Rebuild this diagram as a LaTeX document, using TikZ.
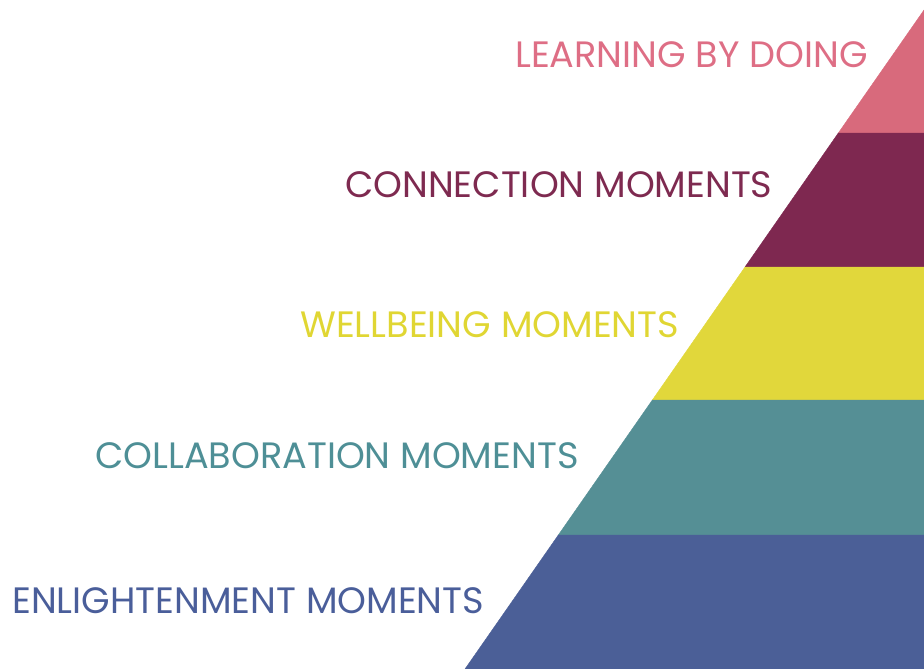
\documentclass[tikz,border=0pt]{standalone}
\usepackage{fontspec}
\setmainfont{Poppins}
\usetikzlibrary{calc}
\definecolor{cpink}{HTML}{D86A7C}
\definecolor{cmaroon}{HTML}{7E2850}
\definecolor{cyellow}{HTML}{E1D73B}
\definecolor{cteal}{HTML}{558F95}
\definecolor{cblue}{HTML}{4B5F97}
\definecolor{tpink}{HTML}{DE6E85}
\definecolor{tmaroon}{HTML}{7E2A50}
\definecolor{tyellow}{HTML}{E0D633}
\definecolor{tteal}{HTML}{4E8F96}
\definecolor{tblue}{HTML}{4A5E9A}
\tikzset{
  lbl/.style={anchor=base west, inner sep=0pt, font=\fontsize{36.7}{40}\selectfont},
  band/.style={fill=#1, draw=#1, line width=0.4pt}
}
\begin{document}
\begin{tikzpicture}[x=1pt,y=-1pt]
\useasboundingbox (0,0) rectangle (924,669);
\coordinate (bot) at (465,669);
\coordinate (top) at (924,10);
\coordinate (br) at (924,669);
\coordinate (d1) at ($(bot)!{536/659}!(top)$);
\coordinate (d2) at ($(bot)!{402/659}!(top)$);
\coordinate (d3) at ($(bot)!{269/659}!(top)$);
\coordinate (d4) at ($(bot)!{134/659}!(top)$);
% bands
\fill[band=cpink] (top) -- (d1) -- (d1 -| br) -- cycle;
\fill[band=cmaroon] (d1) -- (d2) -- (d2 -| br) -- (d1 -| br) -- cycle;
\fill[band=cyellow] (d2) -- (d3) -- (d3 -| br) -- (d2 -| br) -- cycle;
\fill[band=cteal] (d3) -- (d4) -- (d4 -| br) -- (d3 -| br) -- cycle;
\fill[band=cblue] (d4) -- (bot) -- (br) -- (d4 -| br) -- cycle;
% labels
\node[lbl, text=tpink] (l1) at (515,68) {LEARNING BY DOING};
\node[lbl, text=tmaroon] (l2) at (345,197) {CONNECTION MOMENTS};
\node[lbl, text=tyellow] (l3) at (300,337) {WELLBEING MOMENTS};
\node[lbl, text=tteal] (l4) at (95,468) {COLLABORATION MOMENTS};
\node[lbl, text=tblue] (l5) at (12,613) {ENLIGHTENMENT MOMENTS};
\end{tikzpicture}
\end{document}
